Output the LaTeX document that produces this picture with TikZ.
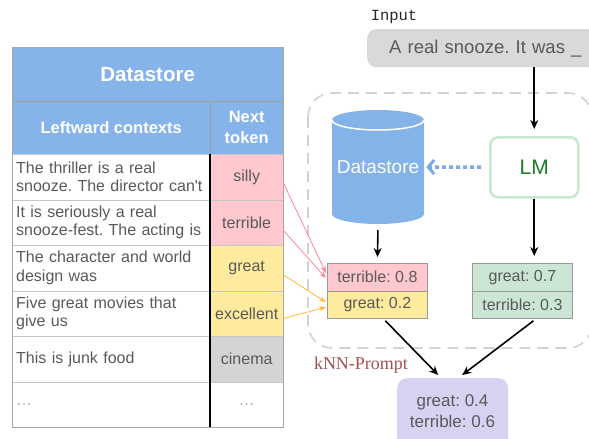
\documentclass[tikz,border=0pt]{standalone}
\usepackage{fontspec}
\setmainfont{Liberation Sans}
\newfontfamily\monofont{Liberation Mono}
\newfontfamily\seriffont{Liberation Serif}
\usetikzlibrary{arrows.meta,calc}
\definecolor{hdr}{HTML}{86B3E9}
\definecolor{pinkc}{HTML}{FFC7CE}
\definecolor{yellc}{HTML}{FFEB9E}
\definecolor{grayc}{HTML}{D4D4D4}
\definecolor{greenc}{HTML}{CBE6D4}
\definecolor{lavc}{HTML}{D9D1F2}
\definecolor{inpc}{HTML}{D9D9D9}
\definecolor{txt}{HTML}{595959}
\definecolor{dsblue}{HTML}{84B3EA}
\definecolor{arrblue}{HTML}{7BAAE6}
\definecolor{lmborder}{HTML}{C6E8CE}
\definecolor{lmtext}{HTML}{1E7D22}
\definecolor{pinkarr}{HTML}{FF8595}
\definecolor{orarr}{HTML}{FFB733}
\definecolor{framec}{HTML}{D2D2D2}
\definecolor{knnc}{HTML}{A05050}
\newcommand\setfs[2]{\fontsize{#1}{#2}\selectfont}
\frenchspacing
\tikzset{
  hcell/.style={draw=gray!75, fill=hdr, text=white, font=\bfseries\setfs{16.5}{21}, inner sep=0pt, anchor=north west, align=center},
  lcell/.style={draw=gray!45, fill=white, text=txt, font=\setfs{16}{18.5}, minimum width=198, minimum height=45.5, text width=190, inner xsep=4pt, inner ysep=0pt, align=left, anchor=north west},
  rcell/.style={draw=gray!45, text=txt, font=\setfs{16}{18.5}, minimum width=73, minimum height=45.5, inner sep=0pt, align=center, anchor=north west},
  probbox/.style={draw=gray!80, line width=0.8pt, text=txt, font=\setfs{16}{18}, minimum width=100, minimum height=27.5, inner sep=0pt, anchor=north west},
  blackarr/.style={-{Stealth[length=9pt,width=8pt]}, line width=1.6pt, black},
  thinarr/.style={-{Stealth[length=7pt,width=5pt]}, line width=0.8pt},
}
\begin{document}
\begin{tikzpicture}[x=1pt,y=-1pt]
\useasboundingbox (0,0) rectangle (589,439);
\clip (0,0) rectangle (589,439);
% ---------- table ----------
\node[hcell, minimum width=271, minimum height=54, font=\bfseries\setfs{20.5}{24}] (title) at (12,47) {Datastore};
\node[hcell, minimum width=198, minimum height=53] (hctx) at (12,101) {Leftward contexts};
\node[hcell, minimum width=73, minimum height=53] (htok) at (210,101) {Next\\token};
\node[lcell] (c1) at (12,154) {The thriller is a real\\snooze. The director can\textquotesingle t};
\node[rcell, fill=pinkc] (t1) at (210,154) {silly};
\node[lcell] (c2) at (12,199.5) {It is seriously a real\\snooze-fest. The acting is};
\node[rcell, fill=pinkc] (t2) at (210,199.5) {terrible};
\node[lcell] (c3) at (12,245) {The character and world\\design was};
\node[rcell, fill=yellc] (t3) at (210,245) {great};
\node[lcell] (c4) at (12,290.5) {Five great movies that\\give us};
\node[rcell, fill=yellc] (t4) at (210,290.5) {excellent};
\node[lcell] (c5) at (12,336) {This is junk food};
\node[rcell, fill=grayc] (t5) at (210,336) {cinema};
\node[lcell, text=gray!70] (c6) at (12,381.5) {\dots};
\node[rcell, fill=white, text=gray!70] (t6) at (210,381.5) {\dots};
\draw[gray!70, line width=0.8pt] (title.north west) rectangle (t6.south east);
\draw[black, line width=1.2pt] (t1.north west) -- (t6.south west);
% ---------- right side ----------
\draw[framec, line width=1.6pt, dash pattern=on 11pt off 7pt, rounded corners=24pt] (308,93) rectangle (592,348);
\node[font=\monofont\setfs{15.5}{18}, text=black!85] (inlabel) at (394,17) {Input};
\node[fill=inpc, rounded corners=9pt, minimum height=38, text width=199, inner xsep=22pt, inner ysep=0pt, align=left, text=txt, font=\setfs{18.5}{21}, anchor=north west] (inp) at (367,29) {A real snooze. It was \_};
% cylinder
\fill[dsblue] (332,120) -- (332,214) arc[start angle=180, end angle=0, x radius=46, y radius=10] -- (424,120) arc[start angle=0, end angle=-180, x radius=46, y radius=10] -- cycle;
\draw[white, line width=1.5pt] (332,120) arc[start angle=180, end angle=0, x radius=46, y radius=10];
\node[minimum width=92, minimum height=114, inner sep=0pt, text=white, font=\setfs{19}{22}] (ds) at (378,167) {Datastore};
\node[draw=lmborder, line width=2.5pt, rounded corners=8pt, fill=white, minimum width=88, minimum height=60, text=lmtext, font=\setfs{21}{24}, anchor=north west] (lm) at (489,136) {LM};
\draw[arrblue, line width=3.5pt, dash pattern=on 4pt off 3pt, -{Straight Barb[length=6pt,width=14pt,line width=3pt]}, shorten <=8pt] (lm.west) -- ([xshift=2pt]ds.east);
\draw[blackarr, shorten >=7pt] (inp.south -| lm) -- (lm.north);
% prob boxes
\node[probbox, fill=pinkc] (k1) at (327,263) {terrible: 0.8};
\node[probbox, fill=yellc] (k2) at (327,290.5) {great: 0.2};
\node[probbox, fill=greenc] (l1) at (472,263) {great: 0.7};
\node[probbox, fill=greenc] (l2) at (472,290.5) {terrible: 0.3};
\draw[blackarr, shorten <=6pt, shorten >=6pt] (ds.south) -- (k1.north);
\draw[blackarr, shorten >=7pt] (lm.south) -- (lm.south |- l1.north);
\node[fill=lavc, rounded corners=10pt, minimum width=111, minimum height=80, inner sep=0pt, anchor=north west] (fin) at (397,378) {};
\node[text=txt, font=\setfs{17}{21.5}, align=center] (fintext) at (452.5,411) {great: 0.4\\terrible: 0.6};
\draw[blackarr] ([xshift=8pt,yshift=-2pt]k2.south) -- ([xshift=-14.5pt,yshift=3pt]fin.north);
\draw[blackarr] ([xshift=11pt,yshift=-2pt]l2.south) -- ([xshift=9.5pt,yshift=3pt]fin.north);
\node[text=knnc, font=\seriffont\setfs{18}{20}] (knn) at (361,365) {kNN-Prompt};
% connectors from table
\draw[thinarr, pinkarr] ([yshift=-6pt]t1.east) -- ([xshift=-1pt,yshift=4pt]k1.west);
\draw[thinarr, pinkarr] ([yshift=-8pt]t2.east) -- ([xshift=-1pt,yshift=-1pt]k1.west);
\draw[thinarr, orarr] ([yshift=-7pt]t3.east) -- ([xshift=-1pt,yshift=2.5pt]k2.west);
\draw[thinarr, orarr] ([yshift=-5pt]t4.east) -- ([xshift=-1pt,yshift=-2.5pt]k2.west);
\end{tikzpicture}
\end{document}
